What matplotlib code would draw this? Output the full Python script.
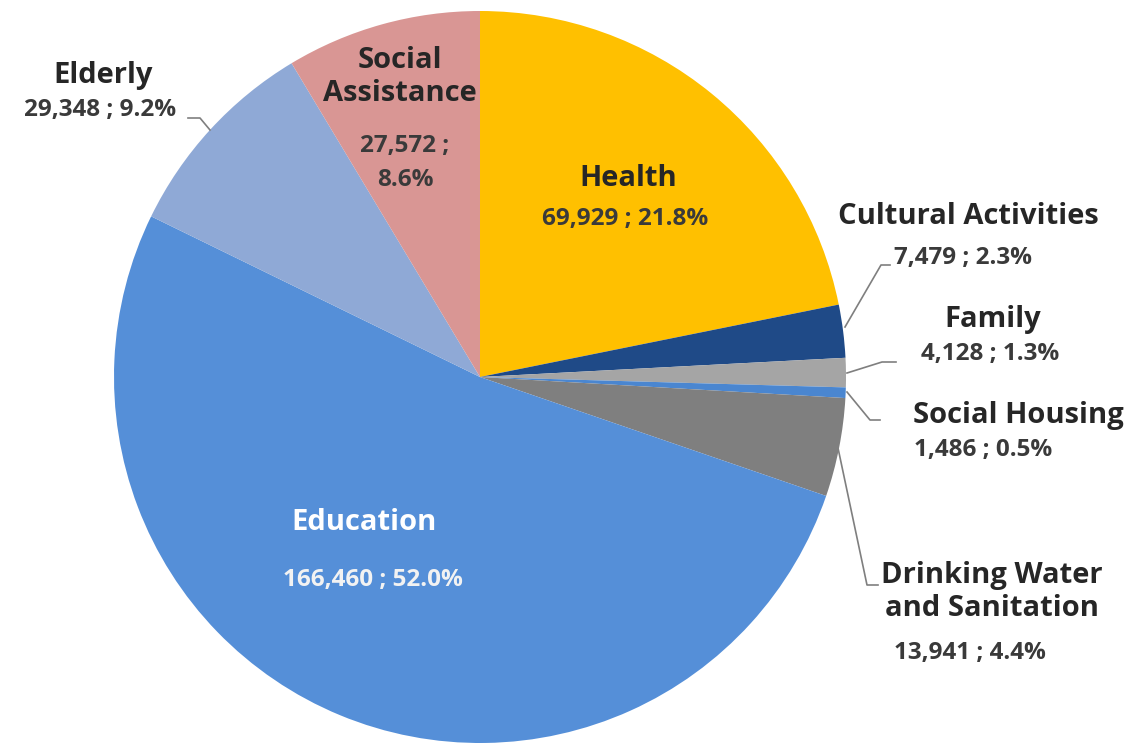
import matplotlib
matplotlib.use("Agg")
import matplotlib.pyplot as plt

# social spending by area, clockwise from 12 o'clock
categories = ["Health", "Cultural Activities", "Family", "Social Housing",
              "Drinking Water\nand Sanitation", "Education", "Elderly",
              "Social\nAssistance"]
values = [69929, 7479, 4128, 1486, 13941, 166460, 29348, 27572]
colors = ["#FFC000", "#1F4A87", "#A5A5A5", "#4A86D0",
          "#7F7F7F", "#558FD8", "#8FA9D6", "#D99694"]

W, H = 1135, 743
plt.rcParams["font.family"] = ["Open Sans", "DejaVu Sans"]

fig = plt.figure(figsize=(W / 100, H / 100), dpi=100)
ax = fig.add_axes([0, 0, 1, 1])

ax.pie(values, colors=colors, startangle=90, counterclock=False,
       radius=366, center=(480, H - 377), frame=True,
       wedgeprops=dict(linewidth=0))
ax.set_xlim(0, W)
ax.set_ylim(0, H)
ax.set_aspect("equal")
ax.axis("off")

total = sum(values)


def value_text(v, sep=" ; "):
    return f"{v:,}{sep}{v / total * 100:.1f}%"


def y(py):
    # image-style y (from the top) to axes data
    return H - py


name_style = dict(fontsize=21, fontweight="bold", color="#262626",
                  ha="center", va="center", linespacing=1.2)
val_style = dict(fontsize=17.5, fontweight="bold", color="#3a3a3a",
                 ha="center", va="center", linespacing=1.6)

# name label position, value label position
label_pos = {
    "Health": ((628, 178), (625, 219)),
    "Cultural Activities": ((968, 217), (963, 258)),
    "Family": ((993, 320), (990, 354)),
    "Social Housing": ((1018, 416), (983, 450)),
    "Drinking Water\nand Sanitation": ((992, 592), (970, 653)),
    "Education": ((364, 523), (373, 580)),
    "Elderly": ((103, 75), (100, 110)),
    "Social\nAssistance": ((400, 77), (405, 163)),
}

for cat, v in zip(categories, values):
    (nx, ny), (vx, vy) = label_pos[cat]
    ns = dict(name_style)
    vs = dict(val_style)
    if cat == "Education":
        ns["color"] = "white"
        vs["color"] = "#F2F2F2"
    ax.text(nx, y(ny), cat, **ns)
    sep = " ;\n" if cat == "Social\nAssistance" else " ; "
    ax.text(vx, y(vy), value_text(v, sep), **vs)

# leader lines from the outside labels to their slices
leaders = [
    [(188, 118), (200, 118), (210, 130)],
    [(890, 265), (881, 265), (845, 327)],
    [(896, 362), (882, 362), (847, 373)],
    [(847, 392), (870, 420), (880, 420)],
    [(838, 448), (867, 585), (878, 585)],
]
for pts in leaders:
    xs = [p[0] for p in pts]
    ys = [y(p[1]) for p in pts]
    ax.plot(xs, ys, color="#7F7F7F", linewidth=1.2)

fig.savefig("out.png", dpi=100, facecolor="white")
